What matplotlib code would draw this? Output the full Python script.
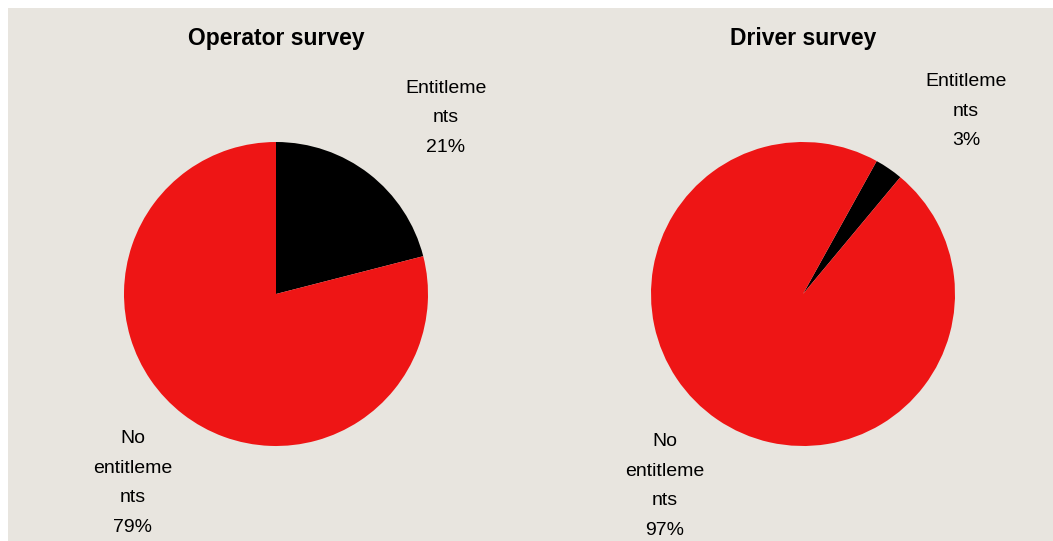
import matplotlib.pyplot as plt
from matplotlib.patches import Rectangle

plt.rcParams['font.family'] = ['Liberation Sans', 'DejaVu Sans']

# survey results (percent)
titles = ["Operator survey", "Driver survey"]
categories = ["Entitleme\nnts", "No\nentitleme\nnts"]
operator_values = [21, 79]
driver_values = [3, 97]

colors = ["#000000", "#ee1515"]
bg = "#e8e5df"

W, H = 1053, 541
fig = plt.figure(figsize=(W / 100, H / 100), dpi=100)
ax = fig.add_axes([0, 0, 1, 1])

# background panel (white strip on left and top)
ax.add_patch(Rectangle((8, -H - 2), W - 6, H - 6, facecolor=bg,
                       edgecolor="none", zorder=0))

# layout per pie: centre, start angle, label positions (pixels from top-left)
layout = [
    dict(center=(276, 294), start=90, lab=[(446, 118), (133, 483)]),
    dict(center=(803, 294), start=61, lab=[(966, 111), (665, 486)]),
]

for title, values, lay in zip(titles, [operator_values, driver_values], layout):
    cx, cy = lay["center"]
    ax.pie(values, colors=colors, startangle=lay["start"], counterclock=False,
           center=(cx, -cy), radius=152, wedgeprops=dict(linewidth=0),
           frame=True)
    ax.text(cx, -38, title, ha="center", va="center", fontsize=16.5,
            fontweight="bold")
    for cat, v, (lx, ly) in zip(categories, values, lay["lab"]):
        ax.text(lx, -ly, f"{cat}\n{v}%", ha="center", va="center",
                fontsize=14, linespacing=1.95)

ax.set_xlim(0, W)
ax.set_ylim(-H, 0)
ax.set_aspect("equal")
ax.axis("off")

fig.savefig("out.png", dpi=100)
